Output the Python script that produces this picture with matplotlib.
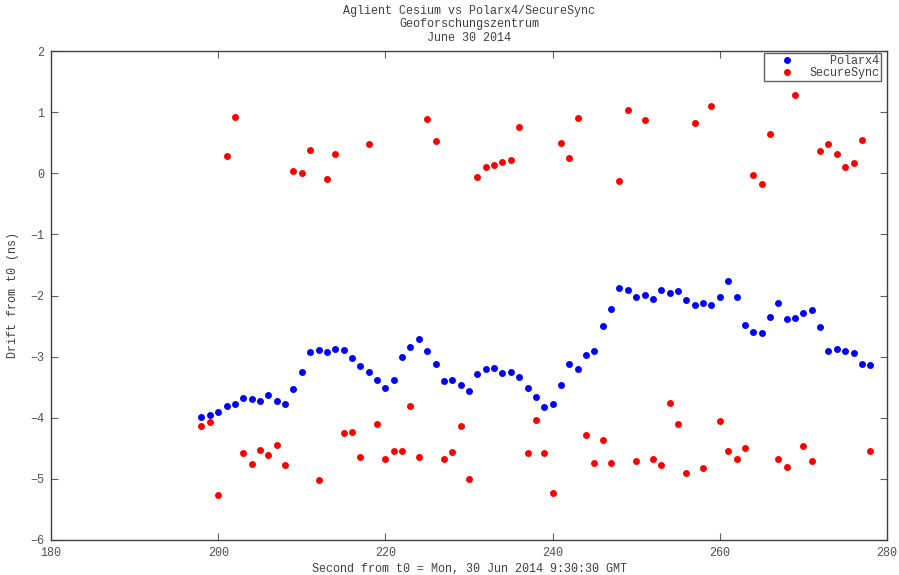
import matplotlib
matplotlib.use("Agg")
import matplotlib.pyplot as plt

seconds = list(range(198, 279))

polarx4 = [
    -3.98, -3.95, -3.91, -3.80, -3.77, -3.67, -3.69, -3.72, -3.63, -3.72,
    -3.77, -3.53, -3.25, -2.93, -2.89, -2.92, -2.87, -2.89, -3.03, -3.16,
    -3.25, -3.38, -3.51, -3.39, -3.01, -2.84, -2.71, -2.90, -3.12, -3.40,
    -3.38, -3.47, -3.56, -3.29, -3.21, -3.18, -3.26, -3.25, -3.33, -3.51,
    -3.66, -3.82, -3.78, -3.46, -3.12, -3.21, -2.97, -2.91, -2.50, -2.22,
    -1.87, -1.91, -2.02, -1.99, -2.05, -1.91, -1.96, -1.92, -2.07, -2.16,
    -2.13, -2.16, -2.02, -1.76, -2.02, -2.49, -2.60, -2.61, -2.35, -2.12,
    -2.38, -2.36, -2.29, -2.23, -2.51, -2.90, -2.88, -2.90, -2.94, -3.12,
    -3.14,
]

securesync = [
    -4.14, -4.07, -5.26, 0.28, 0.92, -4.58, -4.76, -4.52, -4.61, -4.45,
    -4.78, 0.03, 0.00, 0.38, -5.02, -0.10, 0.31, -4.25, -4.23, -4.64,
    0.48, -4.10, -4.67, -4.54, -4.54, -3.80, -4.65, 0.89, 0.53, -4.68,
    -4.56, -4.14, -5.00, -0.06, 0.11, 0.14, 0.19, 0.21, 0.76, -4.57,
    -4.03, -4.57, -5.23, 0.50, 0.25, 0.90, -4.28, -4.74, -4.37, -4.74,
    -0.13, 1.03, -4.71, 0.87, -4.68, -4.77, -3.76, -4.11, -4.91, 0.82,
    -4.83, 1.10, -4.05, -4.55, -4.67, -4.50, -0.03, -0.18, 0.65, -4.68,
    -4.80, 1.28, -4.47, -4.71, 0.36, 0.48, 0.32, 0.11, 0.16, 0.55,
    -4.54,
]

plt.rcParams['font.family'] = ['Liberation Mono', 'DejaVu Sans Mono']
plt.rcParams['font.size'] = 8.5

fig = plt.figure(figsize=(8.99, 5.75), dpi=100)
ax = fig.add_axes([51 / 899, 1 - 540 / 575, (887 - 51) / 899, (540 - 51) / 575])

ax.plot(seconds, polarx4, 'o', color='#0000ff', markersize=5, markeredgewidth=0, label='   Polarx4')
ax.plot(seconds, securesync, 'o', color='#ff0000', markersize=5, markeredgewidth=0, label='SecureSync')

ax.set_xlim(180, 280)
ax.set_ylim(-6, 2)
ax.set_xticks(range(180, 281, 20))
ax.set_yticks(range(-6, 3))

for s in ax.spines.values():
    s.set_color('#404040')
    s.set_linewidth(1.0)
ax.tick_params(direction='in', length=5, width=0.8, color='#606060',
               labelcolor='#505050', top=True, right=True, pad=5)

ax.set_xlabel('Second from t0 = Mon, 30 Jun 2014 9:30:30 GMT', color='#404040', labelpad=3)
ax.set_ylabel('Drift from t0 (ns)', color='#404040', labelpad=8)
ax.set_title('Aglient Cesium vs Polarx4/SecureSync\nGeoforschungszentrum\nJune 30 2014',
             color='#404040', fontsize=8.5, linespacing=1.2, pad=7)

leg = ax.legend(loc='upper right', bbox_to_anchor=(881 / 899, 1 - 53 / 575),
                bbox_transform=fig.transFigure, fancybox=False, framealpha=1,
                edgecolor='#606060', borderpad=0.15, labelspacing=0.05,
                handletextpad=0.1, handlelength=3.6, borderaxespad=0)
leg.get_frame().set_linewidth(1.0)
for t in leg.get_texts():
    t.set_color('#404040')

fig.savefig('out.png', dpi=100)
